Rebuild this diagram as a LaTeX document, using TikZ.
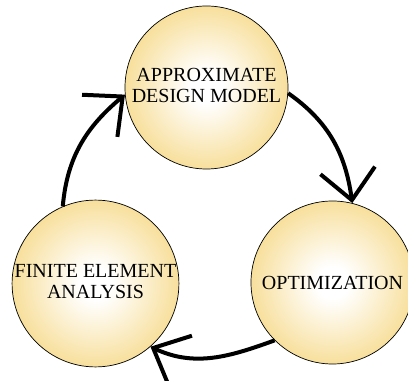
\documentclass[tikz,border=0pt]{standalone}
\usepackage{fontspec}
\setmainfont{Liberation Serif}
\usetikzlibrary{arrows.meta}
\definecolor{gold}{HTML}{F4D170}
\pgfdeclareradialshading{ball}{\pgfpoint{0bp}{0bp}}{color(0bp)=(white); color(5bp)=(white); color(28bp)=(gold!80!white); color(50bp)=(gold); color(70bp)=(gold)}
\tikzset{
  stage/.style={circle, draw=black, line width=0.7pt, shading=ball, minimum size=163pt, inner sep=0pt, align=center, font=\fontsize{20}{21}\selectfont},
  flow/.style={line width=4pt, -{Straight Barb[length=30pt,width=55pt,line width=4pt]}}
}
\begin{document}
\begin{tikzpicture}[x=1pt,y=1pt]
\clip (0,0) rectangle (408,381);
\useasboundingbox (0,0) rectangle (408,381);
\node[stage] (adm) at (206.5,293.5) {\raisebox{3pt}{\begin{tabular}{@{}c@{}}APPROXIMATE\\DESIGN MODEL\end{tabular}}};
\node[stage] (fea) at (95.5,97.5) {\raisebox{-8pt}{\begin{tabular}{@{}c@{}}FINITE ELEMENT\\ANALYSIS\end{tabular}}};
\node[stage] (opt) at (332.5,98.5) {OPTIMIZATION};
\draw[flow] (fea.113) to[out=85,in=220] (adm.185);
\draw[flow] (adm.-4) to[out=-35,in=98] (opt.76);
\draw[flow] (opt.225) to[out=200,in=-25] (fea.-49);
\end{tikzpicture}
\end{document}
